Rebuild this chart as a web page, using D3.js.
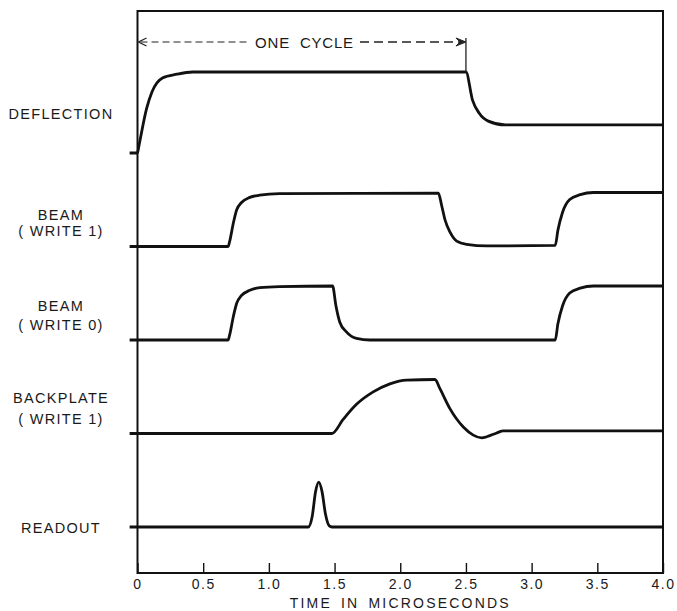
<!DOCTYPE html>
<html>
<head>
<meta charset="utf-8">
<script src="https://cdn.jsdelivr.net/npm/d3@7"></script>
<style>
  html, body { margin: 0; padding: 0; background: #fff; }
  svg { display: block; }
  text { font-family: "Liberation Sans", Arial, sans-serif; fill: #1a1a1a; }
</style>
</head>
<body>
<div id="chart"></div>
<script>
// Signal names (rows, top to bottom) and their label lines
const signals = ["deflection", "beam1", "beam0", "backplate", "readout"];
const signalLabels = [
    ["DEFLECTION"],
    ["BEAM", "( WRITE 1)"],
    ["BEAM", "( WRITE 0)"],
    ["BACKPLATE", "( WRITE 1)"],
    ["READOUT"]
];

// Waveforms: [time in microseconds, relative level]
const deflection = [
    [-0.06, 0], [0, 0], [0.01, 0.12], [0.07, 0.83], [0.11, 1.13], [0.19, 1.39],
    [0.3, 1.46], [0.42, 1.5], [2.5, 1.5], [2.55, 0.98], [2.6, 0.74],
    [2.67, 0.59], [2.8, 0.52], [4.0, 0.52]
];
const beam1 = [
    [-0.06, 0], [0.69, 0], [0.70, 0.08], [0.73, 0.44], [0.755, 0.68], [0.79, 0.81],
    [0.855, 0.91], [0.93, 0.95], [1.08, 0.98], [2.29, 0.99], [2.316, 0.75],
    [2.34, 0.5], [2.38, 0.26], [2.43, 0.1], [2.505, 0.04], [2.66, 0.01],
    [3.18, 0.02], [3.2, 0.3], [3.235, 0.63], [3.29, 0.87], [3.37, 0.96],
    [3.47, 1.0], [4.0, 1.0]
];
const beam0 = [
    [-0.06, 0], [0.69, 0], [0.70, 0.08], [0.73, 0.44], [0.755, 0.68], [0.79, 0.82],
    [0.855, 0.92], [0.93, 0.97], [1.08, 0.99], [1.485, 1.0], [1.51, 0.64],
    [1.54, 0.33], [1.59, 0.15], [1.667, 0.03], [1.77, 0], [3.18, 0],
    [3.2, 0.3], [3.235, 0.63], [3.29, 0.87], [3.37, 0.96], [3.47, 1.0], [4.0, 1.0]
];
const backplate = [
    [-0.06, 0], [1.48, 0], [1.565, 0.26], [1.667, 0.54], [1.794, 0.77],
    [1.921, 0.92], [2.048, 0.99], [2.264, 1.0], [2.302, 0.83], [2.378, 0.46],
    [2.48, 0.12], [2.556, -0.03], [2.62, -0.08], [2.658, -0.06], [2.734, 0.01],
    [2.785, 0.05], [4.0, 0.05]
];
const readout = [
    [-0.06, 0], [1.3, 0], [1.33, 0.2], [1.355, 0.65], [1.38, 0.83], [1.405, 0.65],
    [1.43, 0.25], [1.46, 0.02], [1.48, 0], [4.0, 0]
];
const waveforms = [deflection, beam1, beam0, backplate, readout];

// Axis ticks
const tickValues = [0, 0.5, 1.0, 1.5, 2.0, 2.5, 3.0, 3.5, 4.0];
const tickLabels = ["0", "0.5", "1.0", "1.5", "2.0", "2.5", "3.0", "3.5", "4.0"];
const cycle = [0, 2.5];

const width = 677, height = 611;
const frame = {left: 137.5, right: 663, top: 11, bottom: 573};

const svg = d3.select("#chart").append("svg")
    .attr("width", width)
    .attr("height", height);

const x = d3.scaleLinear().domain([0, 4]).range([frame.left, frame.right]);
const row = d3.scalePoint().domain(signals).range([153, 527]);
const amp = d3.scaleLinear().domain([0, 1]).range([0, -54]);

// frame
svg.append("rect")
    .attr("x", frame.left)
    .attr("y", frame.top)
    .attr("width", frame.right - frame.left)
    .attr("height", frame.bottom - frame.top)
    .attr("fill", "none")
    .attr("stroke", "#111")
    .attr("stroke-width", 2);

// bottom axis, ticks pointing inwards
const axis = d3.axisBottom(x)
    .tickValues(tickValues)
    .tickFormat((d, i) => tickLabels[i])
    .tickSize(-10)
    .tickPadding(6);

const axisG = svg.append("g")
    .attr("transform", `translate(0,${frame.bottom})`)
    .call(axis);
axisG.select(".domain").remove();
axisG.selectAll(".tick line").attr("stroke", "#111").attr("stroke-width", 1.4);
axisG.selectAll(".tick text")
    .attr("font-family", "Liberation Sans, Arial, sans-serif")
    .attr("font-size", 14)
    .attr("letter-spacing", 1.5)
    .attr("fill", "#1a1a1a")
    .attr("dy", "0.71em");

svg.append("text")
    .attr("x", x(2.0))
    .attr("y", 608)
    .attr("text-anchor", "middle")
    .attr("font-size", 14)
    .attr("letter-spacing", 2.2)
    .attr("word-spacing", 3)
    .text("TIME IN MICROSECONDS");

// waveforms
const line = name => d3.line()
    .x(d => x(d[0]))
    .y(d => row(name) + amp(d[1]))
    .curve(d3.curveMonotoneX);

signals.forEach((name, i) => {
    svg.append("path")
        .attr("d", line(name)(waveforms[i]))
        .attr("fill", "none")
        .attr("stroke", "#111")
        .attr("stroke-width", 2.8)
        .attr("stroke-linejoin", "round");
});

// row labels
const labelDy = {
    deflection: [-34],
    beam1: [-27, -11],
    beam0: [-29, -10],
    backplate: [-31, -10],
    readout: [6]
};
signals.forEach((name, i) => {
    signalLabels[i].forEach((txt, j) => {
        svg.append("text")
            .attr("x", 61)
            .attr("y", row(name) + labelDy[name][j])
            .attr("text-anchor", "middle")
            .attr("font-size", 14.5)
            .attr("letter-spacing", 1.3)
            .style("white-space", "pre")
            .text(txt);
    });
});

// "ONE CYCLE" annotation
const cy = 42;
const ann = svg.append("g").attr("stroke", "#222").attr("fill", "none");
ann.append("line")
    .attr("x1", x(cycle[0]) + 3).attr("x2", 249)
    .attr("y1", cy).attr("y2", cy)
    .attr("stroke-width", 1.2)
    .attr("stroke-dasharray", "7,4");
ann.append("line")
    .attr("x1", 360).attr("x2", x(cycle[1]) - 4)
    .attr("y1", cy).attr("y2", cy)
    .attr("stroke-width", 1.3)
    .attr("stroke-dasharray", "9,5");
ann.append("line")
    .attr("x1", x(cycle[1])).attr("x2", x(cycle[1]))
    .attr("y1", cy - 4).attr("y2", row("deflection") + amp(1.5))
    .attr("stroke-width", 1.3);
// arrow heads
ann.append("path")
    .attr("d", `M${x(cycle[0]) + 9},${cy - 4} L${x(cycle[0]) + 1},${cy} L${x(cycle[0]) + 9},${cy + 4}`)
    .attr("stroke-width", 1.3);
ann.append("path")
    .attr("d", `M${x(cycle[1]) - 10},${cy - 4} L${x(cycle[1])},${cy} L${x(cycle[1]) - 10},${cy + 4} L${x(cycle[1]) - 6},${cy} Z`)
    .attr("fill", "#222")
    .attr("stroke-width", 1);

svg.append("text")
    .attr("x", (249 + 360) / 2)
    .attr("y", cy + 5.5)
    .attr("text-anchor", "middle")
    .attr("font-size", 15)
    .attr("letter-spacing", 0.8)
    .style("white-space", "pre")
    .text("ONE  CYCLE");
</script>
</body>
</html>
